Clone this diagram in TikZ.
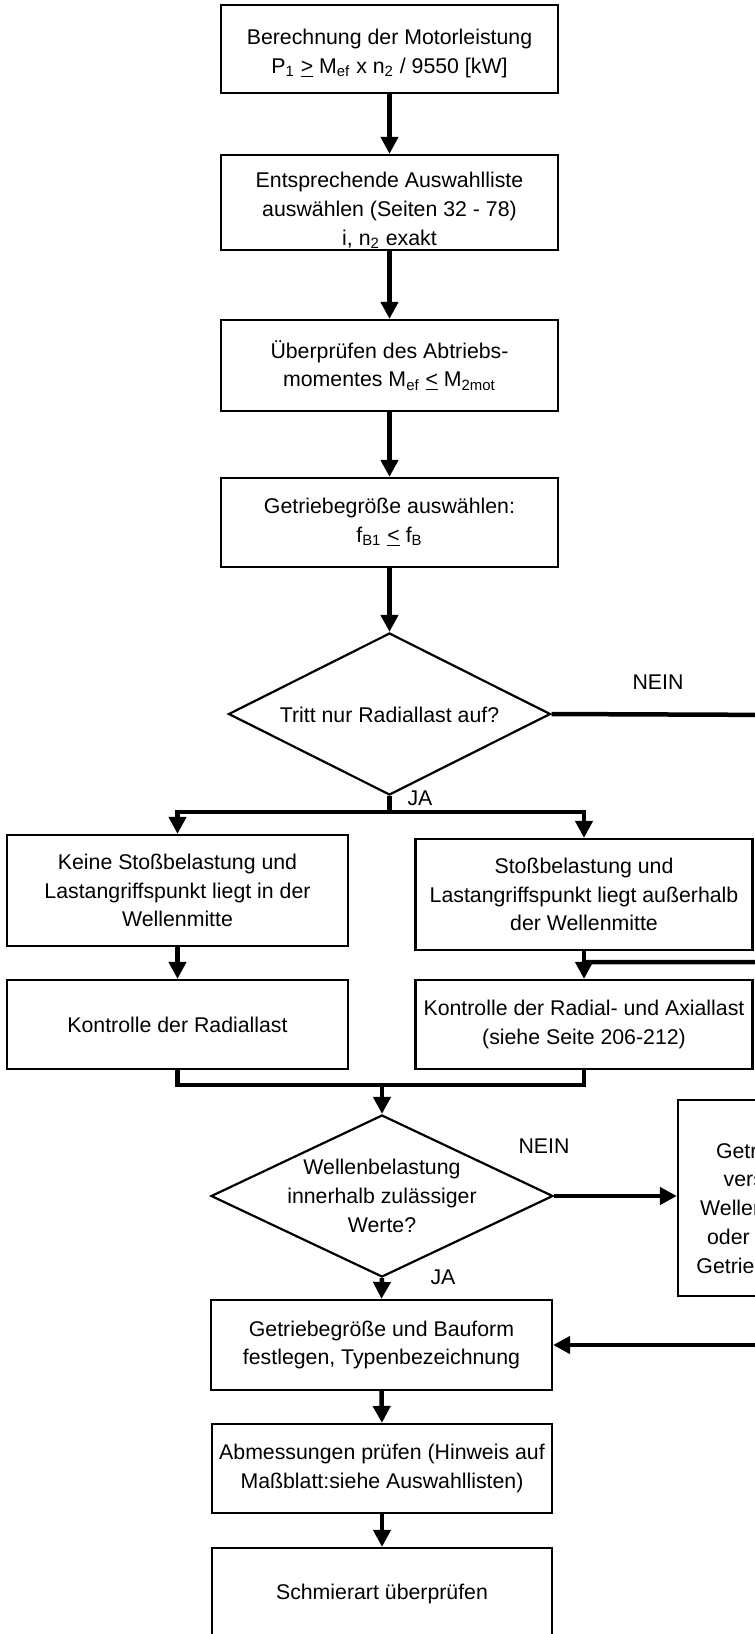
\documentclass[tikz,border=0pt]{standalone}
\usepackage{fontspec}
\setmainfont{Liberation Sans}
\usetikzlibrary{arrows.meta,shapes.geometric}
\begin{document}
\begin{tikzpicture}[x=0.5pt,y=-0.5pt,
  every node/.style={font=\fontsize{10.65pt}{14.4pt}\selectfont, align=center, inner sep=0pt},
  stepbox/.style={draw, line width=1.1pt, rectangle, fill=white},
  decision/.style={draw, line width=1.1pt, diamond, aspect=2},
  conn/.style={line width=2.25pt, -{Triangle[length=8.5pt,width=8.5pt]}},
  wire/.style={line width=2.25pt}]
\useasboundingbox (0,0) rectangle (755,1634);
\fill[white] (0,0) rectangle (755,1634);
\clip (0,0) rectangle (755,1634);

% main column
\node[stepbox, minimum width=168.5pt, minimum height=44pt] (b1) at (389.5,49) {};
\node (b1t) at (389.5,53.5)
  {Berechnung der Motorleistung\\P\textsubscript{1} \underline{>} M\textsubscript{ef} x n\textsubscript{2} / 9550 [kW]};
\node[stepbox, minimum width=168.5pt, minimum height=47.5pt] (b2) at (389.5,202.5) {};
\node (b2t) at (389.5,210.5)
  {Entsprechende Auswahlliste\\auswählen (Seiten 32 - 78)\\i, n\textsubscript{2} exakt};
\node[stepbox, minimum width=168.5pt, minimum height=45.5pt] (b3) at (389.5,365.5)
  {Überprüfen des Abtriebs-\\momentes M\textsubscript{ef} \underline{<} M\textsubscript{2mot}};
\node[stepbox, minimum width=168.5pt, minimum height=44.5pt] (b4) at (389.5,522.5)
  {Getriebegröße auswählen:\\f\textsubscript{B1} \underline{<} f\textsubscript{B}};

% first decision
\node[decision, minimum width=161pt, minimum height=81pt] (d1) at (389.5,714) {};
\node (d1t) at (389.5,715) {Tritt nur Radiallast auf?};

% two branches
\node[stepbox, minimum width=170.5pt, minimum height=55.5pt] (bA) at (177.5,890.5)
  {Keine Stoßbelastung und\\Lastangriffspunkt liegt in der\\Wellenmitte};
\node[stepbox, minimum width=168.5pt, minimum height=55.5pt] (bB) at (584,894.5)
  {Stoßbelastung und\\Lastangriffspunkt liegt außerhalb\\der Wellenmitte};
\node[stepbox, minimum width=170.5pt, minimum height=44.5pt] (bC) at (177.5,1024.5)
  {Kontrolle der Radiallast};
\node[stepbox, minimum width=168.5pt, minimum height=44.5pt] (bD) at (584,1024.5)
  {Kontrolle der Radial- und Axiallast\\(siehe Seite 206-212)};

% second decision
\node[decision, minimum width=171pt, minimum height=81pt] (d2) at (382,1196) {};
\node (d2t) at (382,1196) {Wellenbelastung\\innerhalb zulässiger\\Werte?};
\node[stepbox, minimum width=96pt, minimum height=98pt] (bR) at (774,1198) {};
\node (bRt) at (774,1208)
  {Getriebe mit\\verstärkter\\Wellenlagerung\\oder größeres\\Getriebe wählen};

% final steps
\node[stepbox, minimum width=170.5pt, minimum height=45pt] (bE) at (381.5,1345)
  {Getriebegröße und Bauform\\festlegen, Typenbezeichnung};
\node[stepbox, minimum width=170pt, minimum height=44.5pt] (bF) at (382,1468.5)
  {Abmessungen prüfen (Hinweis auf\\Maßblatt:siehe Auswahllisten)};
\node[stepbox, minimum width=170pt, minimum height=46pt] (bG) at (382,1594)
  {Schmierart überprüfen};

% branch labels
\node (nein1) at (658,682) {NEIN};
\node (ja1) at (420,798) {JA};
\node (nein2) at (544,1146) {NEIN};
\node (ja2) at (443,1277) {JA};

% helper points of the connectors
\coordinate (split) at (389.5,812);
\coordinate (nr) at (790,715);
\coordinate (jn) at (584,962);
\coordinate (merge) at (382,1085);

% connectors
\draw[conn] (b1.south) -- (b2.north);
\draw[conn] (b2.south) -- (b3.north);
\draw[conn] (b3.south) -- (b4.north);
\draw[conn] (b4.south) -- (d1.north);
\draw[wire] (d1.south) -- (split);
\draw[conn] (split) -| (bA.north);
\draw[conn] (split) -| (bB.north);
\draw[wire] (d1.east) -- (nr) |- (jn);
\draw[conn] (bA.south) -- (bC.north);
\draw[conn] (bB.south) -- (bD.north);
\draw[wire] (bC.south) |- (merge);
\draw[wire] (bD.south) |- (merge);
\draw[conn] (merge) -- (d2.north);
\draw[conn] (d2.east) -- (d2.east -| bR.west);
\draw[conn] (d2.south) -- (bE.north);
\draw[conn] (bR.south) |- (bE.east);
\draw[conn] (bE.south) -- (bF.north);
\draw[conn] (bF.south) -- (bG.north);
\end{tikzpicture}
\end{document}
